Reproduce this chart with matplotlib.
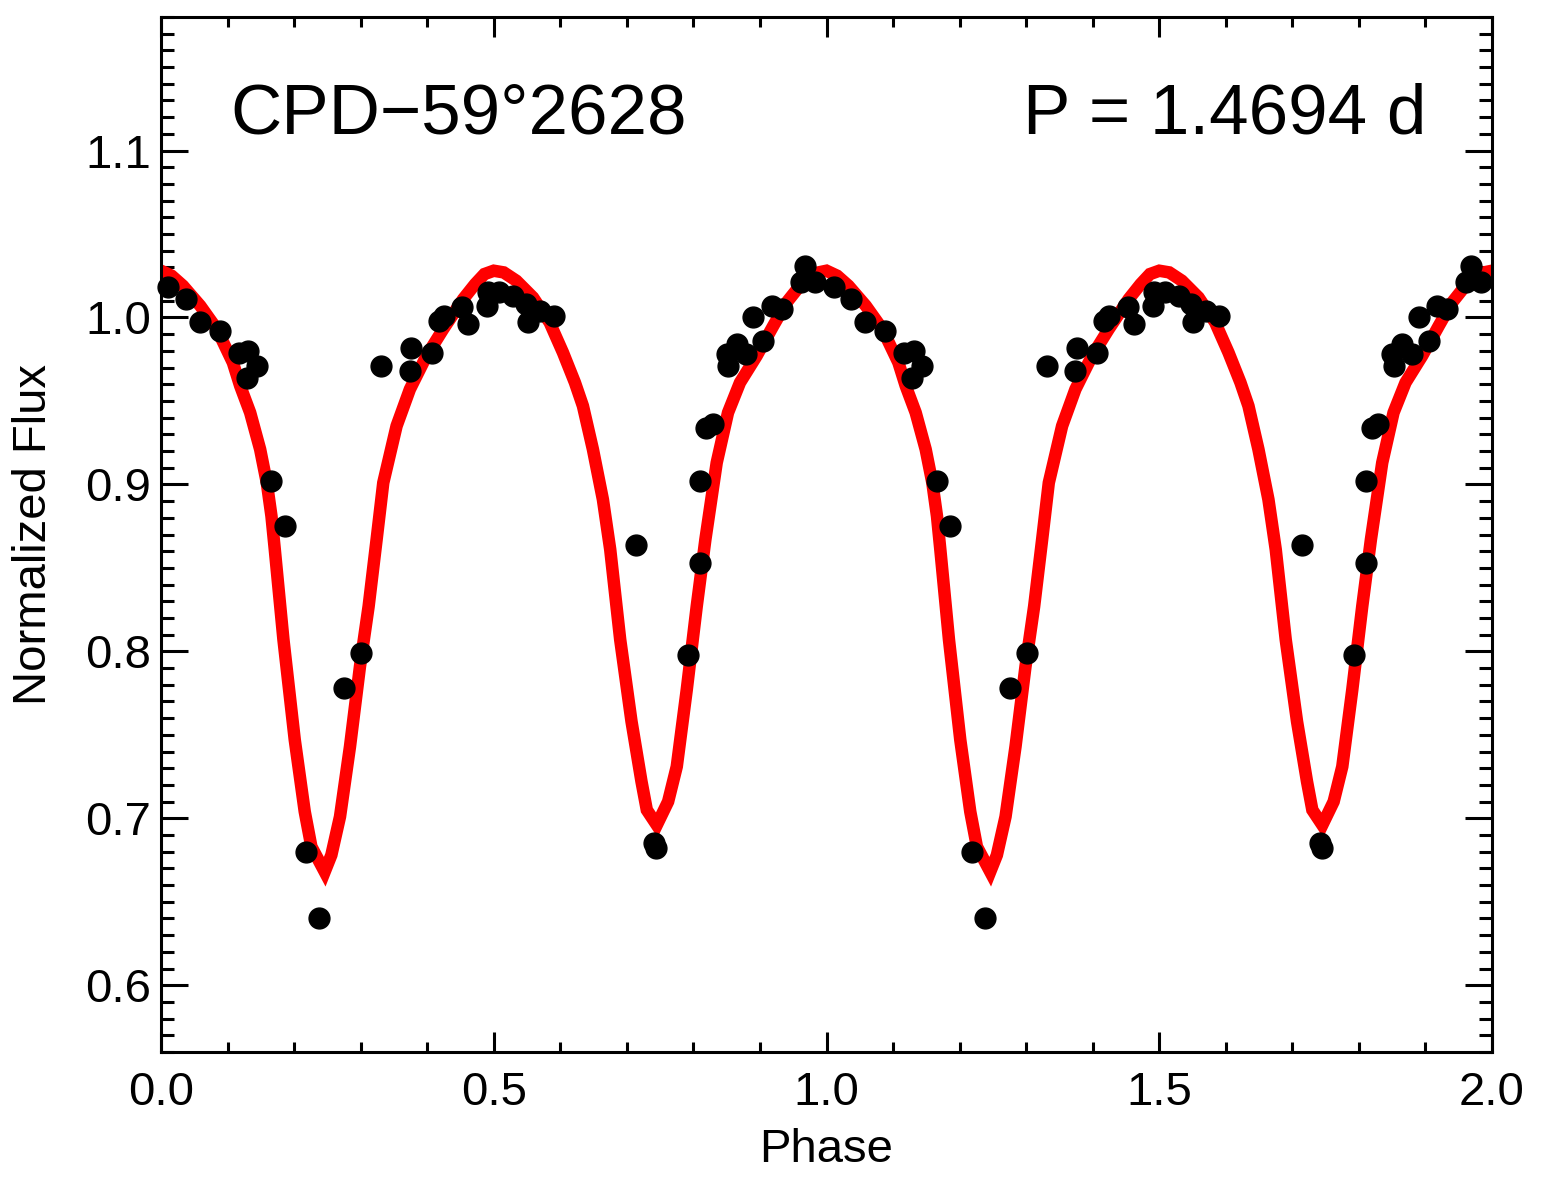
import numpy as np
import matplotlib
matplotlib.use('Agg')
import matplotlib.pyplot as plt
from matplotlib.ticker import MultipleLocator

plt.rcParams['font.family'] = ['Liberation Sans', 'DejaVu Sans']

# observed points, one cycle (plotted twice, phase and phase+1)
phase = [0.011, 0.037, 0.058, 0.088, 0.117, 0.131, 0.144, 0.129, 0.166, 0.186,
         0.218, 0.238, 0.275, 0.301, 0.331, 0.376, 0.374, 0.407, 0.417, 0.425,
         0.453, 0.462, 0.490, 0.492, 0.508, 0.529, 0.548, 0.551, 0.570, 0.590,
         0.714, 0.741, 0.744, 0.792, 0.810, 0.810, 0.819, 0.829, 0.850, 0.852,
         0.865, 0.879, 0.890, 0.905, 0.918, 0.933, 0.961, 0.968, 0.983]
flux = [1.018, 1.011, 0.997, 0.992, 0.979, 0.980, 0.971, 0.964, 0.902, 0.875,
        0.680, 0.640, 0.778, 0.799, 0.971, 0.982, 0.968, 0.979, 0.998, 1.001,
        1.006, 0.996, 1.007, 1.015, 1.015, 1.013, 1.008, 0.997, 1.004, 1.001,
        0.864, 0.685, 0.682, 0.798, 0.853, 0.902, 0.934, 0.936, 0.978, 0.971,
        0.984, 0.978, 1.000, 0.986, 1.007, 1.005, 1.021, 1.031, 1.021]

# model light curve, one cycle
model_phase = [0.000, 0.016, 0.033, 0.059, 0.084, 0.108, 0.119, 0.134, 0.149, 0.159,
               0.166, 0.171, 0.184, 0.201, 0.216, 0.226, 0.246, 0.256, 0.269, 0.284,
               0.299, 0.312, 0.324, 0.334, 0.354, 0.374, 0.399, 0.424, 0.454, 0.472,
               0.486, 0.500, 0.515, 0.534, 0.559, 0.584, 0.604, 0.622, 0.634, 0.649,
               0.664, 0.675, 0.690, 0.707, 0.722, 0.730, 0.745, 0.762, 0.775, 0.790,
               0.805, 0.818, 0.835, 0.852, 0.870, 0.895, 0.920, 0.940, 0.960, 0.975,
               0.988, 1.000]
model_flux = [1.028, 1.025, 1.019, 1.007, 0.993, 0.973, 0.959, 0.943, 0.921, 0.901,
              0.881, 0.861, 0.807, 0.747, 0.704, 0.683, 0.668, 0.678, 0.701, 0.743,
              0.791, 0.827, 0.867, 0.901, 0.935, 0.957, 0.977, 0.993, 1.011, 1.020,
              1.026, 1.028, 1.027, 1.022, 1.012, 0.997, 0.979, 0.961, 0.947, 0.921,
              0.891, 0.861, 0.807, 0.758, 0.722, 0.705, 0.696, 0.710, 0.731, 0.777,
              0.827, 0.867, 0.913, 0.943, 0.961, 0.977, 0.995, 1.009, 1.019, 1.024,
              1.027, 1.028]

star = 'CPD\u221259\u00b02628'
period = 'P = 1.4694 d'

ph = np.array(phase)
fl = np.array(flux)
mp = np.array(model_phase)
mf = np.array(model_flux)

fig = plt.figure(figsize=(15.42, 11.87), dpi=100)
ax = fig.add_axes([0.1044, 0.1137, 0.8632, 0.872])

ax.plot(np.concatenate([mp, mp + 1]), np.concatenate([mf, mf]),
        color='red', lw=9, solid_joinstyle='miter', zorder=2)
ax.plot(np.concatenate([ph, ph + 1]), np.concatenate([fl, fl]),
        'o', color='black', ms=15, mec='black', zorder=3, clip_on=False)

ax.set_xlim(0, 2)
ax.set_ylim(0.56, 1.18)
ax.xaxis.set_minor_locator(MultipleLocator(0.1))
ax.yaxis.set_minor_locator(MultipleLocator(0.01))
ax.set_xticks([0, 0.5, 1.0, 1.5, 2.0])
ax.set_xticklabels(['0.0', '0.5', '1.0', '1.5', '2.0'])
ax.set_yticks([0.6, 0.7, 0.8, 0.9, 1.0, 1.1])
ax.set_yticklabels(['0.6', '0.7', '0.8', '0.9', '1.0', '1.1'])

ax.tick_params(axis='both', which='both', direction='in', top=True, right=True,
               width=2.2, labelsize=34)
ax.tick_params(axis='x', which='major', length=14.4, pad=14)
ax.tick_params(axis='x', which='minor', length=7.2)
ax.tick_params(axis='y', which='major', length=19.2, pad=7)
ax.tick_params(axis='y', which='minor', length=9.6)
for s in ax.spines.values():
    s.set_linewidth(2.2)

ax.set_xlabel('Phase', fontsize=34, labelpad=9)
ax.set_ylabel('Normalized Flux', fontsize=34, labelpad=21)

ax.text(0.052, 0.887, star, transform=ax.transAxes, fontsize=51, ha='left', va='baseline')
ax.text(0.951, 0.887, period, transform=ax.transAxes, fontsize=51, ha='right', va='baseline')

fig.savefig('out.png', dpi=100)
